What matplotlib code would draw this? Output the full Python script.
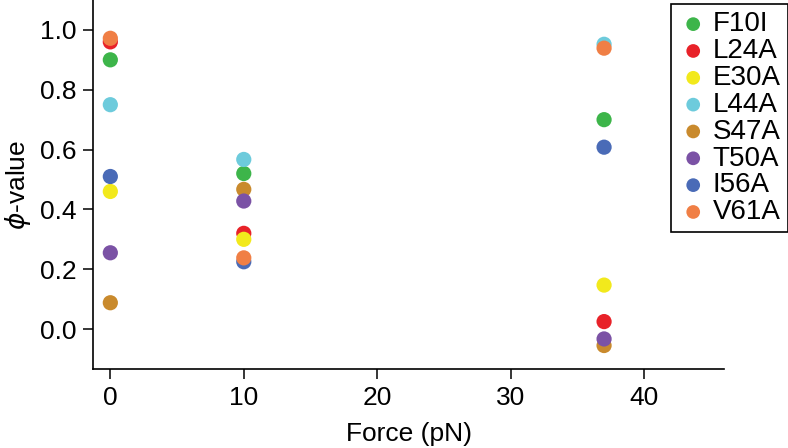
import matplotlib.pyplot as plt

plt.rcParams['font.family'] = ['Liberation Sans', 'DejaVu Sans']

forces = [0, 10, 37]
mutants = ['F10I', 'L24A', 'E30A', 'L44A', 'S47A', 'T50A', 'I56A', 'V61A']
colors = ['#3db54a', '#e82229', '#f2e91c', '#6dcbdc', '#c98a2d', '#7b52a5', '#4a6bb7', '#f07f45']

# phi-values at 0, 10 and 37 pN
phi = {
    'F10I': [0.90, 0.52, 0.70],
    'L24A': [0.96, 0.32, 0.025],
    'E30A': [0.46, 0.30, 0.147],
    'L44A': [0.75, 0.567, 0.952],
    'S47A': [0.088, 0.467, -0.055],
    'T50A': [0.255, 0.428, -0.033],
    'I56A': [0.51, 0.225, 0.608],
    'V61A': [0.972, 0.238, 0.939],
}

fig = plt.figure(figsize=(7.88, 4.48), dpi=100)
ax = fig.add_axes([0.118, 0.176, 0.801, 0.824])

for m, c in zip(mutants, colors):
    ax.scatter(forces, phi[m], s=120, color=c, edgecolors='none', label=m, zorder=3)

ax.set_xlim(-1.3, 46)
ax.set_ylim(-0.134, 1.10)
ax.set_xticks([0, 10, 20, 30, 40])
ax.set_yticks([0.0, 0.2, 0.4, 0.6, 0.8, 1.0])
ax.set_yticklabels(['0.0', '0.2', '0.4', '0.6', '0.8', '1.0'])
ax.tick_params(labelsize=19, length=7, width=1.1, direction='out', pad=5)
for s in ['top', 'right']:
    ax.spines[s].set_visible(False)
for s in ['left', 'bottom']:
    ax.spines[s].set_linewidth(1.2)

ax.set_xlabel('Force (pN)', fontsize=19, labelpad=9)
ax.set_ylabel(r'$\phi$-value', fontsize=19, labelpad=5)

leg = fig.legend(loc='upper right', bbox_to_anchor=(0.9995, 0.99), fontsize=20,
                 frameon=True, fancybox=False, edgecolor='black', framealpha=1,
                 handletextpad=0.15, labelspacing=0.03, borderpad=0.25,
                 handlelength=1.1, borderaxespad=0, markerscale=0.9)
leg.get_frame().set_linewidth(1.2)

fig.savefig('out.png', dpi=100)
